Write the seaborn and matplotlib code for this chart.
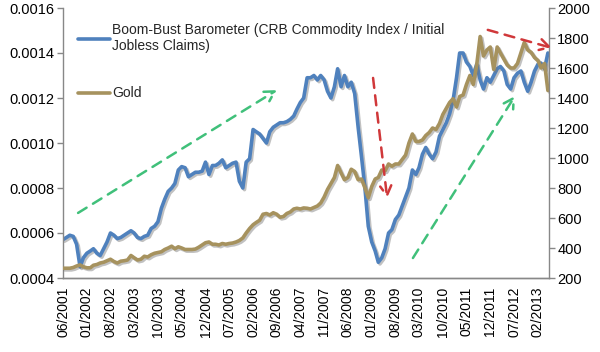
import numpy as np
import pandas as pd
import matplotlib
matplotlib.use("Agg")
import matplotlib.pyplot as plt
import matplotlib.dates as mdates
import matplotlib.patheffects as pe
from matplotlib.ticker import MultipleLocator, FormatStrFormatter
import seaborn as sns

# ---------------- data (monthly, 06/2001 .. 05/2013) ----------------
start_month = "2001-06-01"
barometer_e4 = [
    5.71, 5.8, 5.9, 5.85, 5.5, 4.5, 4.9, 5.1, 5.2, 5.3,
    5.1, 5.0, 5.3, 5.6, 6.0, 5.9, 5.75, 5.8, 5.9, 6.0,
    6.1, 6.0, 5.8, 5.75, 5.85, 5.9, 6.2, 6.3, 6.5, 7.1,
    7.5, 7.85, 8.0, 8.2, 8.8, 8.95, 8.9, 8.5, 8.6, 8.7,
    8.7, 8.75, 9.15, 8.6, 9.0, 9.0, 9.1, 9.25, 8.9, 9.0,
    9.1, 9.15, 8.3, 8.0, 9.15, 9.3, 10.6, 10.5, 10.4, 10.2,
    10.0, 10.5, 10.7, 10.8, 10.9, 10.9, 10.95, 11.05, 11.2, 11.5,
    11.8, 12.0, 12.9, 12.9, 13.0, 12.8, 13.0, 12.8, 12.3, 12.0,
    12.5, 13.3, 12.5, 13.0, 12.5, 12.7, 12.2, 10.7, 9.4, 8.0,
    6.3, 5.6, 5.2, 4.7, 4.9, 5.3, 6.0, 6.15, 6.6, 6.8,
    7.2, 7.6, 8.0, 8.8, 8.6, 8.9, 9.5, 9.8, 9.5, 9.3,
    9.6, 10.3, 10.6, 10.9, 11.3, 11.9, 12.9, 14.0, 14.0, 13.6,
    13.4, 13.0, 13.5, 12.8, 12.4, 12.9, 12.7, 13.0, 13.3, 13.4,
    13.2, 12.6, 12.4, 12.9, 13.1, 13.2, 12.7, 12.3, 12.7, 13.2,
    13.5, 13.55, 13.3, 14.0,
]
gold = [
    265, 265, 265, 270, 280, 287, 275, 268, 268, 285,
    290, 300, 305, 315, 325, 310, 300, 312, 315, 320,
    350, 335, 320, 325, 345, 340, 355, 365, 370, 375,
    390, 400, 412, 395, 408, 400, 390, 390, 390, 393,
    405, 420, 435, 440, 425, 425, 420, 430, 425, 430,
    433, 440, 450, 467, 500, 530, 555, 570, 585, 625,
    630, 620, 635, 625, 605, 610, 630, 640, 660, 665,
    660, 667, 665, 660, 670, 680, 700, 740, 790, 830,
    870, 950, 900, 855, 870, 925, 910, 855, 860, 800,
    735, 810, 860, 870, 920, 915, 960, 945, 960, 960,
    990, 1020, 1100, 1160, 1110, 1110, 1120, 1150, 1170, 1200,
    1190, 1230, 1290, 1330, 1370, 1395, 1340, 1410, 1420, 1490,
    1550, 1490, 1620, 1810, 1680, 1720, 1740, 1590, 1740, 1700,
    1660, 1620, 1600, 1600, 1630, 1700, 1770, 1720, 1705, 1670,
    1650, 1600, 1630, 1450,
]
blue_label = "Boom-Bust Barometer (CRB Commodity Index / Initial\nJobless Claims)"
gold_label = "Gold"
tick_step_months = 7

dates = pd.date_range(start_month, periods=len(gold), freq="MS")
df = pd.DataFrame({
    "date": dates,
    "barometer": np.array(barometer_e4) * 1e-4,
    "gold": gold,
})

# ---------------- style ----------------
sns.set_style("white")
plt.rcParams["font.family"] = ["Liberation Sans", "DejaVu Sans"]
plt.rcParams["font.size"] = 10

BLUE = "#4F81BD"
GOLD = "#A6925E"
AXC = "#888888"

fig = plt.figure(figsize=(6.0, 3.52), dpi=100)
ax = fig.add_axes([63 / 600, 1 - 278 / 352, 486 / 600, 270 / 352])
ax2 = ax.twinx()

shadow = [pe.SimpleLineShadow(offset=(1.2, -1.2), shadow_color="#777777", alpha=0.45),
          pe.Normal()]

sns.lineplot(data=df, x="date", y="barometer", ax=ax, color=BLUE, lw=2.6,
             label=blue_label, legend=False, path_effects=shadow)
sns.lineplot(data=df, x="date", y="gold", ax=ax2, color=GOLD, lw=2.6,
             label=gold_label, legend=False, path_effects=shadow)

# axes
ax.set_ylim(0.0004, 0.0016)
ax.yaxis.set_major_locator(MultipleLocator(0.0002))
ax.yaxis.set_major_formatter(FormatStrFormatter("%.4f"))
ax2.set_ylim(200, 2000)
ax2.yaxis.set_major_locator(MultipleLocator(200))

ax.set_xlim(dates[0], dates[-1] + pd.Timedelta(days=10))
ax.set_xticks(dates[::tick_step_months])
ax.xaxis.set_major_formatter(mdates.DateFormatter("%m/%Y"))
for lbl in ax.get_xticklabels():
    lbl.set_rotation(90)

for a in (ax, ax2):
    a.set_xlabel("")
    a.set_ylabel("")
    a.spines["top"].set_visible(False)
    for s in ("left", "right", "bottom"):
        a.spines[s].set_color(AXC)
        a.spines[s].set_linewidth(1.0)
    a.tick_params(axis="both", direction="out", length=4, width=1,
                  color=AXC, labelsize=10.5, labelcolor="black", pad=2)
ax.spines["right"].set_visible(False)
ax2.spines["left"].set_visible(False)
ax.tick_params(axis="x", labelsize=10, pad=2)
ax.tick_params(axis="y", left=True)
ax2.tick_params(axis="y", right=True)
ax.grid(False)
ax2.grid(False)

# arrows (axes fraction)
def arrow(a, start, end, color):
    a.annotate("", xy=end, xytext=start, xycoords="axes fraction",
               textcoords="axes fraction",
               arrowprops=dict(arrowstyle="->,head_length=0.7,head_width=0.4",
                               color=color, lw=1.8, linestyle=(0, (4, 3)),
                               shrinkA=0, shrinkB=0),
               annotation_clip=False)

GREEN = "#40C07A"
RED = "#D0383A"
arrow(ax2, (0.031, 0.241), (0.440, 0.696), GREEN)
arrow(ax2, (0.638, 0.741), (0.667, 0.296), RED)
arrow(ax2, (0.720, 0.074), (0.930, 0.674), GREEN)
arrow(ax2, (0.874, 0.919), (1.006, 0.852), RED)

# legend
h1, l1 = ax.get_legend_handles_labels()
h2, l2 = ax2.get_legend_handles_labels()
leg = ax2.legend(h1 + h2, l1 + l2, loc="upper left",
                 bbox_to_anchor=(0.031, 0.945), frameon=False,
                 borderaxespad=0, borderpad=0, handlelength=2.3,
                 handletextpad=0.15, labelspacing=2.4, fontsize=10)
for line in leg.get_lines():
    line.set_linewidth(2.6)
    line.set_path_effects([])

fig.savefig("out.png", dpi=100)
